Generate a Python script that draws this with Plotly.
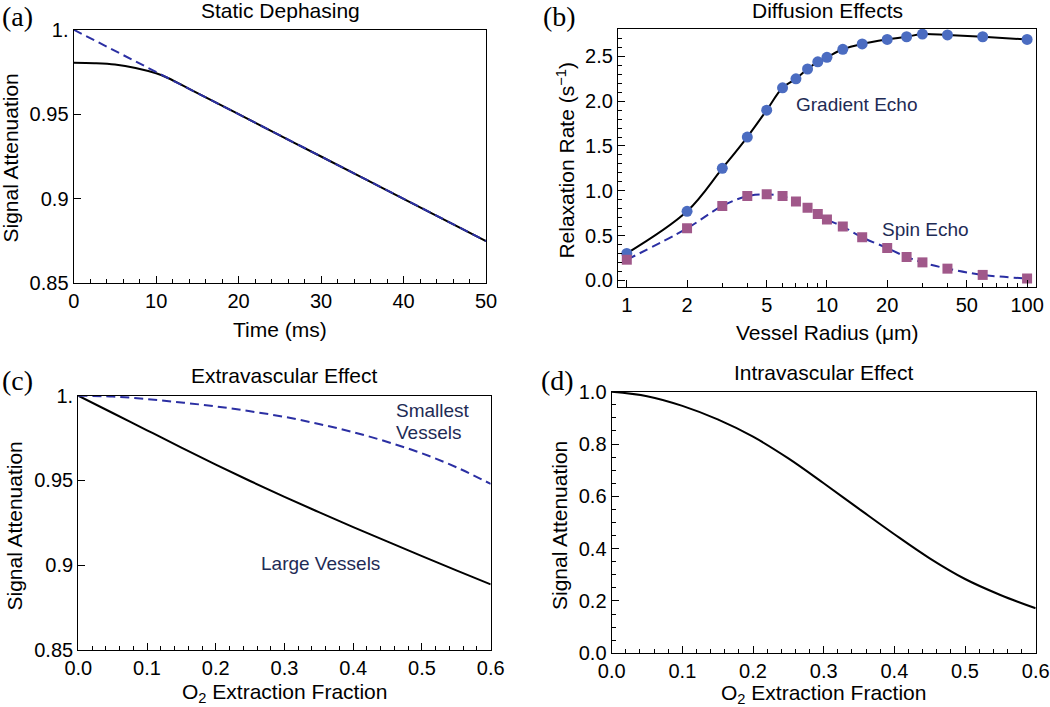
import plotly.graph_objects as go

# (a) static dephasing
time_ms = [0, 2.5, 5, 7.5, 10, 11.5, 14, 20, 30, 40, 50]
static_full = [0.9805, 0.9802, 0.9794, 0.9774, 0.9742, 0.9713, 0.965, 0.950, 0.925, 0.900, 0.875]
time_asym = [0, 50]
static_asym = [1.0, 0.875]

# (b) diffusion effects
radius_um = [1, 2, 3, 4, 5, 6, 7, 8, 9, 10, 12, 15, 20, 25, 30, 40, 60, 100]
gradient_echo = [0.30, 0.77, 1.25, 1.60, 1.90, 2.15, 2.25, 2.36, 2.44, 2.49,
                 2.58, 2.64, 2.69, 2.72, 2.75, 2.74, 2.72, 2.69]
spin_echo = [0.23, 0.58, 0.83, 0.94, 0.96, 0.94, 0.88, 0.81, 0.74, 0.68,
             0.60, 0.48, 0.36, 0.26, 0.20, 0.13, 0.06, 0.02]

# (c) extravascular, (d) intravascular
oef = [0, 0.05, 0.1, 0.15, 0.2, 0.25, 0.3, 0.35, 0.4, 0.45, 0.5, 0.55, 0.6]
extra_large = [1.0, 0.9898, 0.9796, 0.9694, 0.9594, 0.9497, 0.9403, 0.9313, 0.9225, 0.9139, 0.9054, 0.8970, 0.8887]
extra_small = [1.0, 0.9995, 0.9980, 0.9960, 0.9937, 0.9908, 0.9875, 0.9833, 0.9785, 0.9727, 0.9660, 0.9578, 0.9480]
intra = [1.0, 0.983, 0.946, 0.894, 0.828, 0.745, 0.650, 0.552, 0.455, 0.363, 0.284, 0.223, 0.172]

BLACK = "black"
DASH_BLUE = "#2b2fa3"
TEXT_BLUE = "#1e2b55"
DOT_BLUE = "#4b6cc1"
SQ_PINK = "#a0588a"
DASH = "9px,5px"

fig = go.Figure()

# panel a
fig.add_trace(go.Scatter(x=time_ms, y=static_full, mode="lines", line_shape="spline",
                         line=dict(color=BLACK, width=2), xaxis="x", yaxis="y"))
fig.add_trace(go.Scatter(x=time_asym, y=static_asym, mode="lines",
                         line=dict(color=DASH_BLUE, width=2, dash=DASH), xaxis="x", yaxis="y"))

# panel b
fig.add_trace(go.Scatter(x=radius_um, y=gradient_echo, mode="lines", line_shape="spline",
                         line=dict(color=BLACK, width=2), xaxis="x2", yaxis="y2"))
fig.add_trace(go.Scatter(x=radius_um, y=spin_echo, mode="lines", line_shape="spline",
                         line=dict(color=DASH_BLUE, width=2, dash=DASH), xaxis="x2", yaxis="y2"))
fig.add_trace(go.Scatter(x=radius_um, y=gradient_echo, mode="markers",
                         marker=dict(color=DOT_BLUE, size=11, symbol="circle"), xaxis="x2", yaxis="y2"))
fig.add_trace(go.Scatter(x=radius_um, y=spin_echo, mode="markers",
                         marker=dict(color=SQ_PINK, size=10, symbol="square"), xaxis="x2", yaxis="y2"))

# panel c
fig.add_trace(go.Scatter(x=oef, y=extra_large, mode="lines", line_shape="spline",
                         line=dict(color=BLACK, width=2), xaxis="x3", yaxis="y3"))
fig.add_trace(go.Scatter(x=oef, y=extra_small, mode="lines", line_shape="spline",
                         line=dict(color=DASH_BLUE, width=2, dash=DASH), xaxis="x3", yaxis="y3"))

# panel d
fig.add_trace(go.Scatter(x=oef, y=intra, mode="lines", line_shape="spline",
                         line=dict(color=BLACK, width=2), xaxis="x4", yaxis="y4"))

W, H = 1050, 707


def dom(a, b):
    return [a / W, b / W]


def ydom(top, bottom):
    return [1 - bottom / H, 1 - top / H]


axis_style = dict(showline=True, linecolor=BLACK, linewidth=1.3, mirror=True,
                  ticks="inside", ticklen=7, tickwidth=1.2, tickcolor=BLACK,
                  showgrid=False, zeroline=False, automargin=False,
                  tickfont=dict(size=20, color=BLACK, family="Liberation Sans"))
minor_style = dict(ticks="inside", ticklen=4, tickwidth=1, tickcolor=BLACK, showgrid=False)

ef_ticks = [0, 0.1, 0.2, 0.3, 0.4, 0.5, 0.6]
ef_text = ["0.0", "0.1", "0.2", "0.3", "0.4", "0.5", "0.6"]

fig.update_layout(
    template="none",
    width=W, height=H, showlegend=False,
    paper_bgcolor="white", plot_bgcolor="white",
    margin=dict(l=0, r=0, t=0, b=0, pad=0, autoexpand=False),
    font=dict(family="Liberation Sans", color=BLACK),
    xaxis=dict(axis_style, domain=dom(73.7, 486), range=[0, 50],
               tickvals=[0, 10, 20, 30, 40, 50], minor=dict(minor_style, dtick=2), anchor="y"),
    yaxis=dict(axis_style, domain=ydom(29.7, 283.3), range=[0.85, 1.0],
               tickvals=[0.85, 0.9, 0.95, 1.0], ticktext=["0.85", "0.9", "0.95", "1."], anchor="x"),
    xaxis2=dict(axis_style, domain=dom(618, 1035.5), type="log", range=[-0.044, 2.042],
                tickvals=[1, 2, 5, 10, 20, 50, 100],
                minor=dict(minor_style, tickvals=[3, 4, 6, 7, 8, 9, 30, 40, 60, 70, 80, 90]),
                anchor="y2"),
    yaxis2=dict(axis_style, domain=ydom(28.7, 287), range=[-0.075, 2.81],
                tickvals=[0, 0.5, 1.0, 1.5, 2.0, 2.5], ticktext=["0.0", "0.5", "1.0", "1.5", "2.0", "2.5"],
                minor=dict(minor_style, dtick=0.1), anchor="x2"),
    xaxis3=dict(axis_style, domain=dom(78.3, 490.7), range=[0, 0.6],
                tickvals=ef_ticks, ticktext=ef_text,
                minor=dict(minor_style, dtick=0.02), anchor="y3"),
    yaxis3=dict(axis_style, domain=ydom(395.7, 650), range=[0.85, 1.0],
                tickvals=[0.85, 0.9, 0.95, 1.0], ticktext=["0.85", "0.9", "0.95", "1."], anchor="x3"),
    xaxis4=dict(axis_style, domain=dom(611.7, 1035.7), range=[0, 0.6],
                tickvals=ef_ticks, ticktext=ef_text,
                minor=dict(minor_style, dtick=0.02), anchor="y4"),
    yaxis4=dict(axis_style, domain=ydom(391.7, 653.3), range=[0, 1.0],
                tickvals=[0, 0.2, 0.4, 0.6, 0.8, 1.0], ticktext=["0.0", "0.2", "0.4", "0.6", "0.8", "1.0"],
                minor=dict(minor_style, dtick=0.05), anchor="x4"),
)


def px_note(text, x, y, size=21, angle=0, family="Liberation Sans", color=BLACK):
    fig.add_annotation(text=text, x=x / W, y=1 - y / H, xref="paper", yref="paper",
                       showarrow=False, textangle=angle, xanchor="center", yanchor="middle",
                       font=dict(size=size, family=family, color=color))


# panel letters
for lbl, x, y in [("(a)", 17.7, 16), ("(b)", 559, 16), ("(c)", 17.7, 380), ("(d)", 557, 380)]:
    px_note(lbl, x, y, size=28, family="Liberation Serif")

# titles
px_note("Static Dephasing", 280, 11)
px_note("Diffusion Effects", 827, 11)
px_note("Extravascular Effect", 284.5, 375)
px_note("Intravascular Effect", 823.7, 372)

# axis titles
px_note("Time (ms)", 280, 329.6)
px_note("Vessel Radius (μm)", 827, 333)
px_note("O<sub>2</sub> Extraction Fraction", 284.5, 693)
px_note("O<sub>2</sub> Extraction Fraction", 823.7, 694)
px_note("Signal Attenuation", 10.5, 158, angle=-90)
px_note("Relaxation Rate (s<sup>−1</sup>)", 565.6, 160, angle=-90)
px_note("Signal Attenuation", 13.5, 526, angle=-90)
px_note("Signal Attenuation", 559, 526, angle=-90)

# curve labels
fig.add_annotation(text="Gradient Echo", x=1.15, y=1.96, xref="x2", yref="y2", showarrow=False,
                   font=dict(size=19, color=TEXT_BLUE))
fig.add_annotation(text="Spin Echo", x=1.49, y=0.57, xref="x2", yref="y2", showarrow=False,
                   font=dict(size=19, color=TEXT_BLUE))
fig.add_annotation(text="Smallest", x=0.46, y=0.9912, xref="x3", yref="y3", showarrow=False,
                   xanchor="left", font=dict(size=19, color=TEXT_BLUE))
fig.add_annotation(text="Vessels", x=0.46, y=0.9782, xref="x3", yref="y3", showarrow=False,
                   xanchor="left", font=dict(size=19, color=TEXT_BLUE))
fig.add_annotation(text="Large Vessels", x=0.3517, y=0.9011, xref="x3", yref="y3", showarrow=False,
                   font=dict(size=19, color=TEXT_BLUE))

# drop the page's default body margin so the figure sits at the window corner
fig.write_html("out.html", config={"displayModeBar": False},
               post_script="document.body.style.margin = '0px';")
